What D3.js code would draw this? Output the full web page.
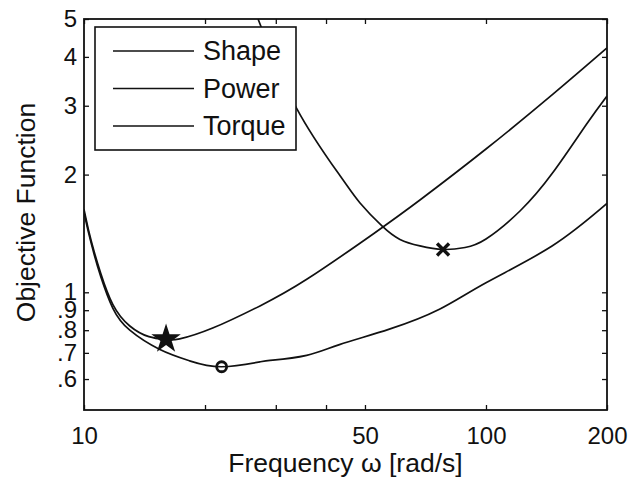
<!DOCTYPE html>
<html>
<head>
<meta charset="utf-8">
<script src="https://cdn.jsdelivr.net/npm/d3@7"></script>
<style>
  body { margin: 0; background: #fff; }
  svg { font-family: "Liberation Sans", Arial, sans-serif; }
</style>
</head>
<body>
<div id="chart"></div>
<script>
// Values (frequency in rad/s, objective value)
const shapeFreq = [10, 10.3, 10.6, 11.0, 11.8, 13.0, 14.5, 16.0, 17.3, 20.9, 27.4, 35.9, 52.4, 68.5, 100, 147, 200];
const shapeVals = [1.63, 1.42, 1.27, 1.12, 0.93, 0.82, 0.77, 0.757, 0.760, 0.810, 0.923, 1.081, 1.41, 1.722, 2.325, 3.216, 4.216];

const powerFreq = [27.1, 33.8, 43.4, 48.6, 55.1, 61.1, 68.5, 78.2, 88.7, 100, 121.5, 147, 178, 200];
const powerVals = [5.0, 2.955, 1.983, 1.692, 1.478, 1.365, 1.314, 1.287, 1.302, 1.369, 1.614, 2.03, 2.694, 3.177];

const torqueFreq = [10, 10.3, 10.6, 11.0, 11.8, 13.0, 15.4, 18.3, 22.0, 27.4, 29.5, 35.8, 43.2, 57.5, 76.6, 100, 146, 200];
const torqueVals = [1.60, 1.40, 1.25, 1.10, 0.91, 0.80, 0.715, 0.668, 0.645, 0.664, 0.671, 0.690, 0.735, 0.805, 0.905, 1.058, 1.313, 1.687];

// optimum markers
const starPoint = [16.0, 0.759];
const circlePoint = [22.0, 0.645];
const crossPoint = [78.2, 1.287];

const seriesNames = ["Shape", "Power", "Torque"];

const xTicks = [10, 20, 30, 40, 50, 100, 200];
const xTickLabels = ["10", "", "", "", "50", "100", "200"];
const yTicks = [0.6, 0.7, 0.8, 0.9, 1, 2, 3, 4, 5];
const yTickLabels = [".6", ".7", ".8", ".9", "1", "2", "3", "4", "5"];

const margin = { top: 19, right: 26, bottom: 73, left: 84 };
const width = 633 - margin.left - margin.right;
const height = 483 - margin.top - margin.bottom;

const x = d3.scaleLog().domain([10, 200]).range([0, width]);
const y = d3.scaleLog().domain([0.5, 5]).range([height, 0]);

const svg = d3.select("#chart")
  .append("svg")
  .attr("width", 633)
  .attr("height", 483)
  .append("g")
  .attr("transform", "translate(" + margin.left + "," + margin.top + ")");

svg.append("defs").append("clipPath")
  .attr("id", "plotclip")
  .append("rect")
  .attr("width", width)
  .attr("height", height);

const line = d3.line()
  .x(d => x(d[0]))
  .y(d => y(d[1]))
  .curve(d3.curveNatural);

const series = [
  d3.zip(shapeFreq, shapeVals),
  d3.zip(powerFreq, powerVals),
  d3.zip(torqueFreq, torqueVals)
];

const plot = svg.append("g").attr("clip-path", "url(#plotclip)");

series.forEach(function(s) {
  plot.append("path")
    .datum(s)
    .attr("fill", "none")
    .attr("stroke", "#111")
    .attr("stroke-width", 1.7)
    .attr("d", line);
});

// markers
svg.append("path")
  .attr("transform", "translate(" + x(starPoint[0]) + "," + y(starPoint[1]) + ")")
  .attr("d", d3.symbol(d3.symbolStar, 270)())
  .attr("fill", "#111");

svg.append("circle")
  .attr("cx", x(circlePoint[0]))
  .attr("cy", y(circlePoint[1]))
  .attr("r", 5)
  .attr("fill", "none")
  .attr("stroke", "#111")
  .attr("stroke-width", 2.8);

svg.append("path")
  .attr("transform", "translate(" + x(crossPoint[0]) + "," + y(crossPoint[1]) + ")")
  .attr("d", "M-6,-6L6,6M-6,6L6,-6")
  .attr("fill", "none")
  .attr("stroke", "#111")
  .attr("stroke-width", 3.4);

// axes box with inward ticks
svg.append("g")
  .attr("transform", "translate(0," + height + ")")
  .call(d3.axisBottom(x).tickValues(xTicks).tickSizeInner(-5).tickSizeOuter(0)
    .tickFormat((d, i) => xTickLabels[i]))
  .call(g => g.selectAll("text").attr("dy", "1.0em").attr("y", 10));

svg.append("g")
  .call(d3.axisTop(x).tickValues(xTicks).tickSizeInner(-5).tickSizeOuter(0).tickFormat(""));

svg.append("g")
  .call(d3.axisLeft(y).tickValues(yTicks).tickSizeInner(-5).tickSizeOuter(0)
    .tickFormat((d, i) => yTickLabels[i]))
  .call(g => g.selectAll("text").attr("x", -7));

svg.append("g")
  .attr("transform", "translate(" + width + ",0)")
  .call(d3.axisRight(y).tickValues(yTicks).tickSizeInner(-5).tickSizeOuter(0).tickFormat(""));

svg.selectAll(".domain").remove();
svg.selectAll(".tick line").attr("stroke", "#111").attr("stroke-width", 1.3);
svg.selectAll(".tick text")
  .attr("fill", "#111")
  .style("font-size", "24px")
  .style("font-family", "'Liberation Sans', Arial, sans-serif");

svg.append("rect")
  .attr("width", width)
  .attr("height", height)
  .attr("fill", "none")
  .attr("stroke", "#111")
  .attr("stroke-width", 1.8);

// legend
const legend = svg.append("g").attr("transform", "translate(11,8)");
legend.append("rect")
  .attr("width", 201)
  .attr("height", 123)
  .attr("fill", "#fff")
  .attr("stroke", "#111")
  .attr("stroke-width", 1.6);

seriesNames.forEach(function(name, i) {
  const ly = 24 + i * 37.5;
  legend.append("line")
    .attr("x1", 18).attr("x2", 99)
    .attr("y1", ly).attr("y2", ly)
    .attr("stroke", "#111")
    .attr("stroke-width", 1.6);
  legend.append("text")
    .attr("x", 108)
    .attr("y", ly)
    .attr("dy", "0.35em")
    .attr("fill", "#111")
    .style("font-size", "27px")
    .text(name);
});

// axis labels
svg.append("text")
  .attr("x", width / 2)
  .attr("y", 453)
  .attr("text-anchor", "middle")
  .attr("fill", "#111")
  .style("font-size", "26.5px")
  .text("Frequency ω [rad/s]");

svg.append("text")
  .attr("transform", "translate(-49," + (height / 2 - 2) + ") rotate(-90)")
  .attr("text-anchor", "middle")
  .attr("fill", "#111")
  .style("font-size", "26.5px")
  .text("Objective Function");
</script>
</body>
</html>
